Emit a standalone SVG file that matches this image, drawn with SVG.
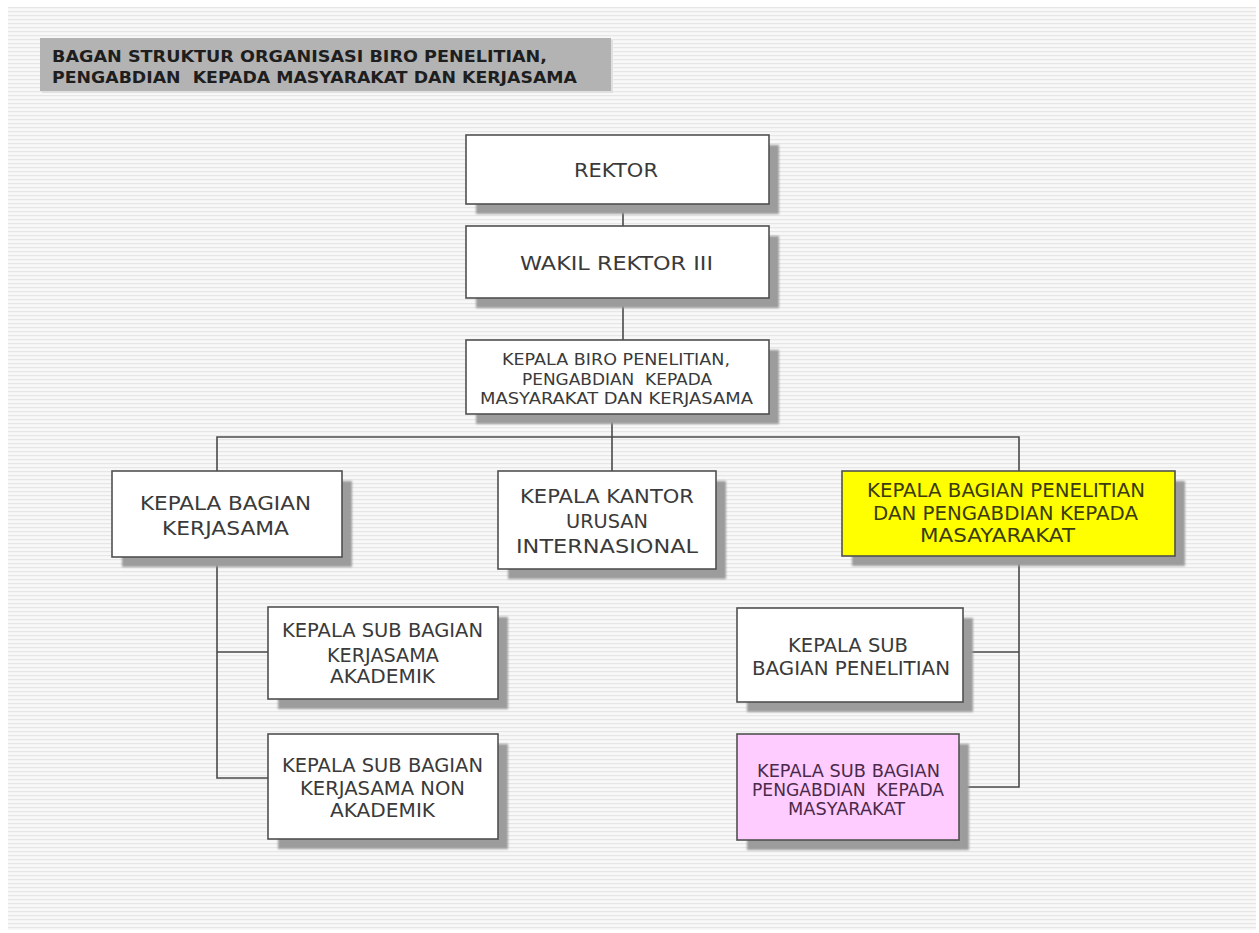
<svg xmlns="http://www.w3.org/2000/svg" width="1259" height="933" viewBox="0 0 1259 933">
<defs>
<pattern id="stripes" x="0" y="7" width="8" height="4" patternUnits="userSpaceOnUse">
<rect width="8" height="4" fill="#f8f8f8"/>
<rect width="8" height="1.2" fill="#e6e6e6"/>
</pattern>
<filter id="blur" x="-10%" y="-10%" width="120%" height="120%"><feGaussianBlur stdDeviation="1.2"/></filter>
</defs>
<style>
.box{stroke:#505050;stroke-width:1.6}
.white{fill:#ffffff}
.yellow{fill:#ffff00}
.pink{fill:#ffccff}
.shadow{fill:#9c9c9c;filter:url(#blur)}
.t{font-family:"DejaVu Sans",Verdana,sans-serif;fill:#3a3a3a;white-space:pre}
.ty{fill:#3b3b10}
.tp{fill:#4a2a4a}
.title{font-family:"DejaVu Sans",Verdana,sans-serif;font-weight:bold;font-size:15.5px;fill:#1e1e1e;white-space:pre}
.line{stroke:#4a4a4a;stroke-width:1.6;fill:none}
</style>
<rect x="0" y="0" width="1259" height="933" fill="#ffffff"/>
<rect x="8" y="7" width="1248" height="923" fill="url(#stripes)"/>

<g id="title">
<rect x="42" y="40" width="571" height="53" style="fill:#e0e0e0"/>
<rect x="40" y="38" width="571" height="53" fill="#b3b3b3"/>
<text class="title" x="52" y="62" textLength="495" lengthAdjust="spacingAndGlyphs">BAGAN STRUKTUR ORGANISASI BIRO PENELITIAN,</text>
<text class="title" x="52" y="83" textLength="525" lengthAdjust="spacingAndGlyphs" xml:space="preserve">PENGABDIAN  KEPADA MASYARAKAT DAN KERJASAMA</text>
</g>

<g id="connectors">
<line class="line" x1="623" y1="204" x2="623" y2="226"/>
<line class="line" x1="623" y1="298" x2="623" y2="340"/>
<line class="line" x1="612" y1="414" x2="612" y2="471"/>
<polyline class="line" points="217,471 217,437 1019,437 1019,471"/>
<polyline class="line" points="217,557 217,778 268,778"/>
<line class="line" x1="217" y1="652" x2="268" y2="652"/>
<polyline class="line" points="1019,556 1019,787 959,787"/>
<line class="line" x1="963" y1="652" x2="1019" y2="652"/>
</g>

<g id="rektor">
<rect x="476" y="145" width="303" height="69" class="shadow"/>
<rect x="466" y="135" width="303" height="69" class="box white"/>
<text class="t" x="574" y="177" font-size="19" textLength="84" lengthAdjust="spacingAndGlyphs">REKTOR</text>
</g>

<g id="wakil-rektor-iii">
<rect x="476" y="236" width="303" height="72" class="shadow"/>
<rect x="466" y="226" width="303" height="72" class="box white"/>
<text class="t" x="520" y="270" font-size="19" textLength="193" lengthAdjust="spacingAndGlyphs">WAKIL REKTOR III</text>
</g>

<g id="kepala-biro">
<rect x="476" y="350" width="303" height="74" class="shadow"/>
<rect x="466" y="340" width="303" height="74" class="box white"/>
<text class="t" x="502" y="365" font-size="15.5" textLength="228" lengthAdjust="spacingAndGlyphs">KEPALA BIRO PENELITIAN,</text>
<text class="t" x="522" y="385" font-size="15.5" textLength="190" lengthAdjust="spacingAndGlyphs" xml:space="preserve">PENGABDIAN  KEPADA</text>
<text class="t" x="480" y="404" font-size="15.5" textLength="273" lengthAdjust="spacingAndGlyphs">MASYARAKAT DAN KERJASAMA</text>
</g>

<g id="kepala-bagian-kerjasama">
<rect x="122" y="481" width="230" height="86" class="shadow"/>
<rect x="112" y="471" width="230" height="86" class="box white"/>
<text class="t" x="140" y="510" font-size="19.5" textLength="171" lengthAdjust="spacingAndGlyphs">KEPALA BAGIAN</text>
<text class="t" x="162" y="535" font-size="19.5" textLength="127" lengthAdjust="spacingAndGlyphs">KERJASAMA</text>
</g>

<g id="kepala-kantor">
<rect x="508" y="481" width="218" height="98" class="shadow"/>
<rect x="498" y="471" width="218" height="98" class="box white"/>
<text class="t" x="607" y="503" font-size="19.5" text-anchor="middle" textLength="174" lengthAdjust="spacingAndGlyphs">KEPALA KANTOR</text>
<text class="t" x="607" y="528" font-size="19.5" text-anchor="middle" textLength="82" lengthAdjust="spacingAndGlyphs">URUSAN</text>
<text class="t" x="607" y="553" font-size="19.5" text-anchor="middle" textLength="182" lengthAdjust="spacingAndGlyphs">INTERNASIONAL</text>
</g>

<g id="kepala-bagian-penelitian">
<rect x="852" y="481" width="333" height="85" class="shadow"/>
<rect x="842" y="471" width="333" height="85" class="box yellow"/>
<text class="t ty" x="867" y="497" font-size="19" textLength="278" lengthAdjust="spacingAndGlyphs">KEPALA BAGIAN PENELITIAN</text>
<text class="t ty" x="873" y="520" font-size="19" textLength="265" lengthAdjust="spacingAndGlyphs">DAN PENGABDIAN KEPADA</text>
<text class="t ty" x="920" y="542" font-size="19" textLength="155" lengthAdjust="spacingAndGlyphs">MASAYARAKAT</text>
</g>

<g id="ksb-kerjasama-akademik">
<rect x="278" y="617" width="230" height="92" class="shadow"/>
<rect x="268" y="607" width="230" height="92" class="box white"/>
<text class="t" x="282" y="637" font-size="19.5" textLength="201" lengthAdjust="spacingAndGlyphs">KEPALA SUB BAGIAN</text>
<text class="t" x="327" y="662" font-size="19.5" textLength="112" lengthAdjust="spacingAndGlyphs">KERJASAMA</text>
<text class="t" x="330" y="683" font-size="19.5" textLength="105" lengthAdjust="spacingAndGlyphs">AKADEMIK</text>
</g>

<g id="ksb-kerjasama-non-akademik">
<rect x="278" y="744" width="230" height="105" class="shadow"/>
<rect x="268" y="734" width="230" height="105" class="box white"/>
<text class="t" x="282" y="772" font-size="19.5" textLength="201" lengthAdjust="spacingAndGlyphs">KEPALA SUB BAGIAN</text>
<text class="t" x="300" y="795" font-size="19.5" textLength="165" lengthAdjust="spacingAndGlyphs">KERJASAMA NON</text>
<text class="t" x="330" y="817" font-size="19.5" textLength="105" lengthAdjust="spacingAndGlyphs">AKADEMIK</text>
</g>

<g id="ksb-penelitian">
<rect x="747" y="618" width="226" height="94" class="shadow"/>
<rect x="737" y="608" width="226" height="94" class="box white"/>
<text class="t" x="788" y="652" font-size="19.5" textLength="120" lengthAdjust="spacingAndGlyphs">KEPALA SUB</text>
<text class="t" x="752" y="675" font-size="19.5" textLength="198" lengthAdjust="spacingAndGlyphs">BAGIAN PENELITIAN</text>
</g>

<g id="ksb-pengabdian">
<rect x="747" y="744" width="222" height="106" class="shadow"/>
<rect x="737" y="734" width="222" height="106" class="box pink"/>
<text class="t tp" x="757" y="777" font-size="17" textLength="183" lengthAdjust="spacingAndGlyphs">KEPALA SUB BAGIAN</text>
<text class="t tp" x="752" y="796" font-size="17" textLength="192" lengthAdjust="spacingAndGlyphs" xml:space="preserve">PENGABDIAN  KEPADA</text>
<text class="t tp" x="788" y="815" font-size="17" textLength="117" lengthAdjust="spacingAndGlyphs">MASYARAKAT</text>
</g>
</svg>
